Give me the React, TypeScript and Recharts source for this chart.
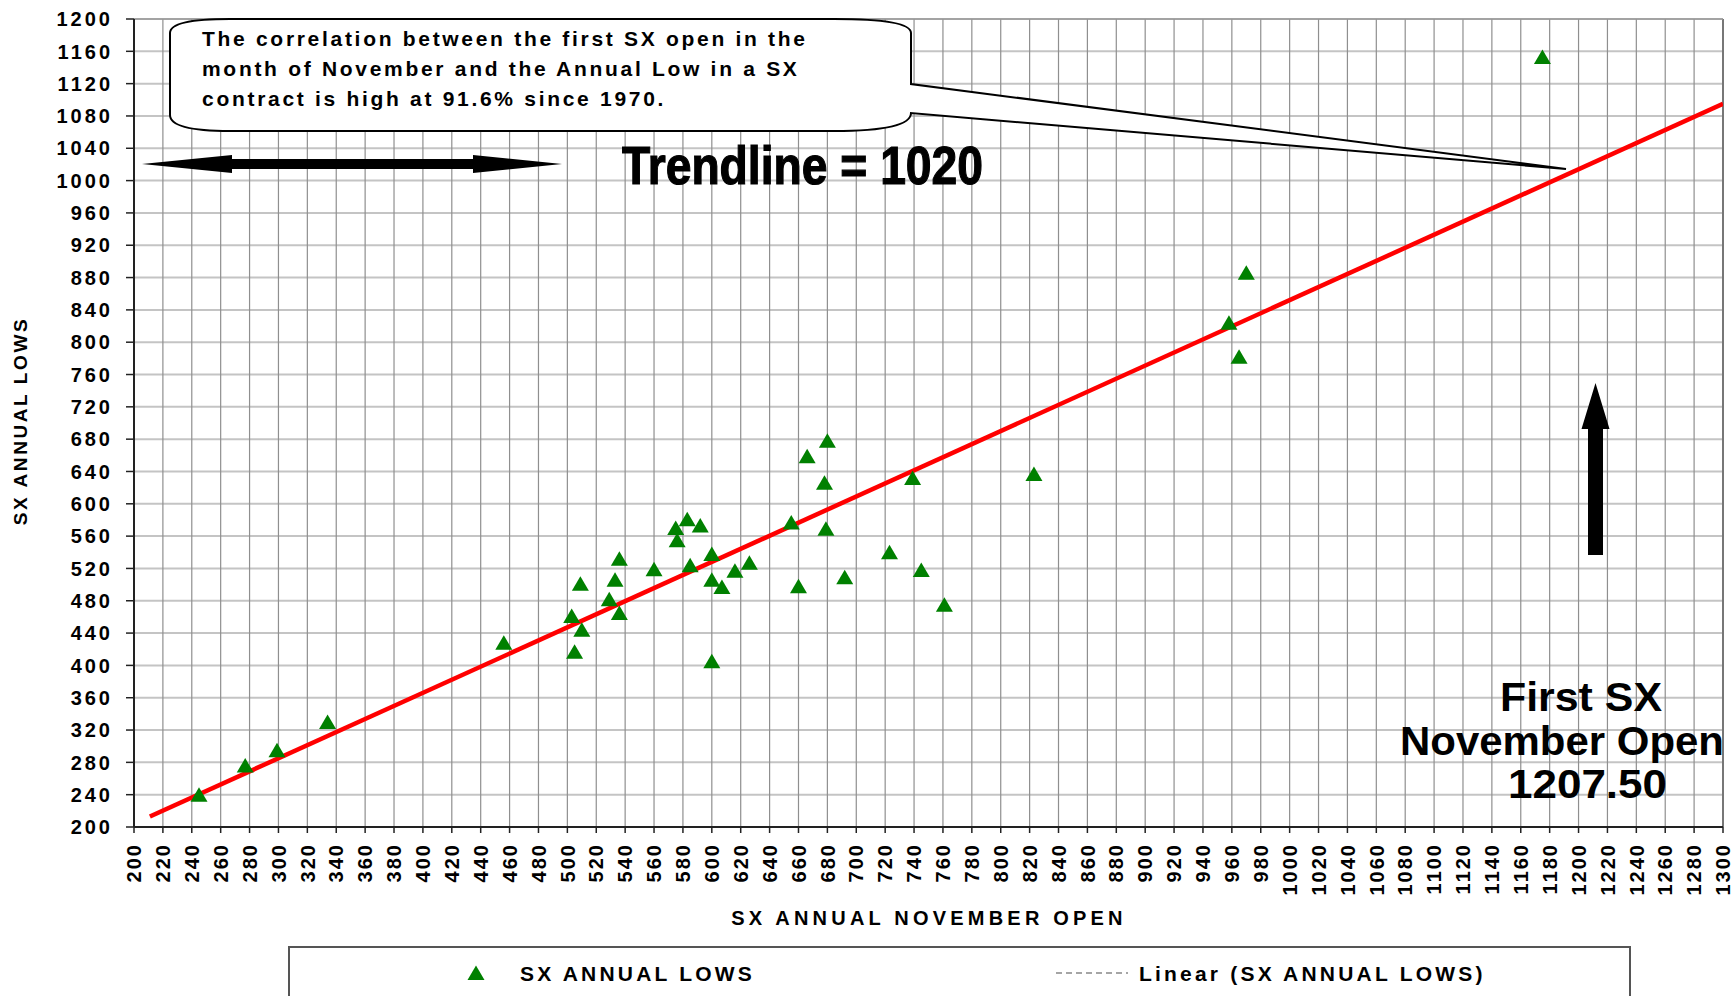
import React from "react";
import {
  ScatterChart,
  Scatter,
  XAxis,
  YAxis,
  CartesianGrid,
  ReferenceLine,
} from "recharts";

// First SX November open vs SX annual low
const novOpen = [
  245, 277, 299, 334, 456,
  583, 575, 592, 576, 600, 585, 616, 626, 600, 607,
  560, 536, 533, 509, 529, 536, 503, 510, 505, 600,
  680, 666, 678, 739, 823, 655, 679, 723, 745, 692, 660, 761,
  970, 958, 965, 1175,
];
const annualLow = [
  240, 276, 295, 330, 428,
  581, 570, 573, 555, 538, 524, 517, 527, 506, 497,
  519, 532, 506, 501, 482, 465, 461, 444, 417, 405,
  678, 659, 626, 632, 637, 577, 569, 540, 518, 509, 498, 475,
  886, 824, 782, 1153,
];

// linear trendline end points
const trendX = [211, 1300];
const trendY = [213, 1095];

const xTicks = [
  200, 220, 240, 260, 280, 300, 320, 340, 360, 380, 400, 420, 440, 460, 480,
  500, 520, 540, 560, 580, 600, 620, 640, 660, 680, 700, 720, 740, 760, 780,
  800, 820, 840, 860, 880, 900, 920, 940, 960, 980, 1000, 1020, 1040, 1060,
  1080, 1100, 1120, 1140, 1160, 1180, 1200, 1220, 1240, 1260, 1280, 1300,
];
const yTicks = [
  200, 240, 280, 320, 360, 400, 440, 480, 520, 560, 600, 640, 680, 720, 760,
  800, 840, 880, 920, 960, 1000, 1040, 1080, 1120, 1160, 1200,
];

const points = novOpen.map((x, i) => ({ x, y: annualLow[i] }));
const trend = trendX.map((x, i) => ({ x, y: trendY[i] }));

const FONT = "'Liberation Sans', Arial, sans-serif";
const GREEN = "#008000";

// eslint-disable-next-line @typescript-eslint/no-explicit-any
function Triangle({ cx, cy }: any) {
  if (cx == null || cy == null) return null;
  return (
    <polygon
      points={`${cx},${cy - 7.5} ${cx + 8.5},${cy + 7} ${cx - 8.5},${cy + 7}`}
      fill={GREEN}
    />
  );
}

function NoDot() {
  return <g />;
}

// eslint-disable-next-line @typescript-eslint/no-explicit-any
function YTick({ y, payload }: any) {
  return (
    <text
      x={113}
      y={y}
      dy="0.36em"
      textAnchor="end"
      fontFamily={FONT}
      fontWeight="bold"
      fontSize={20}
      letterSpacing={3}
      fill="#000"
    >
      {payload.value}
    </text>
  );
}

// eslint-disable-next-line @typescript-eslint/no-explicit-any
function XTick({ x, payload }: any) {
  return (
    <g transform={`translate(${x},843)`}>
      <text
        transform="rotate(-90)"
        dy="0.36em"
        textAnchor="end"
        fontFamily={FONT}
        fontWeight="bold"
        fontSize={20}
        letterSpacing={2}
        fill="#000"
      >
        {payload.value}
      </text>
    </g>
  );
}

function Overlay() {
  const callout =
    "M 230,19 L 834,19 Q 911,19 911,33 L 911,84 L 1566,169 L 911,113 " +
    "Q 911,131 834,131 L 230,131 Q 170,131 170,115 L 170,33 Q 170,19 230,19 Z";
  const txt = {
    fontFamily: FONT,
    fontWeight: "bold" as const,
    fill: "#000",
  };
  return (
    <svg
      width={1734}
      height={996}
      style={{ position: "absolute", left: 0, top: 0, pointerEvents: "none" }}
    >
      {/* callout bubble */}
      <path d={callout} fill="#fff" stroke="#000" strokeWidth={2} />
      <g {...txt} fontSize={21} letterSpacing={2.7}>
        <text x={202} y={46}>The correlation between the first SX open in the</text>
        <text x={202} y={76}>month of November and the Annual Low in a SX</text>
        <text x={202} y={106}>contract is high at 91.6% since 1970.</text>
      </g>

      {/* double arrow */}
      <polygon
        points="142,164 232,155 232,159 473,159 473,155 562,164 473,173 473,169 232,169 232,173"
        fill="#000"
      />

      <text
        {...txt}
        x={622}
        y={184}
        fontSize={54}
        textLength={361}
        lengthAdjust="spacingAndGlyphs"
        stroke="#000"
        strokeWidth={1.2}
      >
        Trendline = 1020
      </text>

      {/* up arrow */}
      <polygon
        points="1595.5,383 1609.5,429 1603,429 1603,555 1588,555 1588,429 1581.5,429"
        fill="#000"
      />

      <g {...txt} fontSize={40}>
        <text x={1500} y={711} textLength={162} lengthAdjust="spacingAndGlyphs">
          First SX
        </text>
        <text x={1400} y={755} textLength={324} lengthAdjust="spacingAndGlyphs">
          November Open
        </text>
        <text x={1508} y={798} textLength={159} lengthAdjust="spacingAndGlyphs">
          1207.50
        </text>
      </g>

      {/* axis titles */}
      <text
        {...txt}
        x={929}
        y={925}
        fontSize={20}
        letterSpacing={4.2}
        textAnchor="middle"
      >
        SX ANNUAL NOVEMBER OPEN
      </text>
      <text
        {...txt}
        transform="translate(27,421) rotate(-90)"
        fontSize={19}
        letterSpacing={2.6}
        textAnchor="middle"
      >
        SX ANNUAL LOWS
      </text>

      {/* legend */}
      <rect x={289} y={947} width={1341} height={70} fill="#fff" stroke="#555" strokeWidth={2} />
      <polygon points="476,965.5 484.5,980 467.5,980" fill={GREEN} />
      <text {...txt} x={520} y={981} fontSize={21} letterSpacing={3.2}>
        SX ANNUAL LOWS
      </text>
      <line
        x1={1056}
        y1={973}
        x2={1128}
        y2={973}
        stroke="#888"
        strokeWidth={1.5}
        strokeDasharray="6 4"
      />
      <text {...txt} x={1139} y={981} fontSize={21} letterSpacing={3.2}>
        Linear (SX ANNUAL LOWS)
      </text>
    </svg>
  );
}

export default function App() {
  return (
    <div
      style={{
        position: "absolute",
        left: 0,
        top: 0,
        width: 1734,
        height: 996,
        background: "#fff",
        overflow: "hidden",
      }}
    >
      <ScatterChart
        width={1734}
        height={996}
        margin={{ top: 19, right: 11, bottom: 139, left: 0 }}
      >
        <CartesianGrid vertical={false} stroke="#c4c4c4" strokeWidth={2} />
        <CartesianGrid horizontal={false} stroke="#8f8f8f" strokeWidth={1.2} />
        <XAxis
          type="number"
          dataKey="x"
          domain={[200, 1300]}
          ticks={xTicks}
          interval={0}
          allowDataOverflow
          height={30}
          tick={<XTick />}
          tickSize={6}
          axisLine={{ stroke: "#222", strokeWidth: 2 }}
          tickLine={{ stroke: "#222", strokeWidth: 1.5 }}
        />
        <YAxis
          type="number"
          dataKey="y"
          domain={[200, 1200]}
          ticks={yTicks}
          interval={0}
          allowDataOverflow
          width={134}
          tick={<YTick />}
          tickSize={8}
          axisLine={{ stroke: "#222", strokeWidth: 2 }}
          tickLine={{ stroke: "#222", strokeWidth: 1.5 }}
        />
        <ReferenceLine x={1300} stroke="#777" strokeWidth={2} />
        <ReferenceLine y={1200} stroke="#999" strokeWidth={1.5} />
        <Scatter
          name="Linear (SX ANNUAL LOWS)"
          data={trend}
          line={{ stroke: "#ff0000", strokeWidth: 4.5 }}
          shape={<NoDot />}
          isAnimationActive={false}
        />
        <Scatter
          name="SX ANNUAL LOWS"
          data={points}
          shape={<Triangle />}
          isAnimationActive={false}
        />
      </ScatterChart>
      <Overlay />
    </div>
  );
}
